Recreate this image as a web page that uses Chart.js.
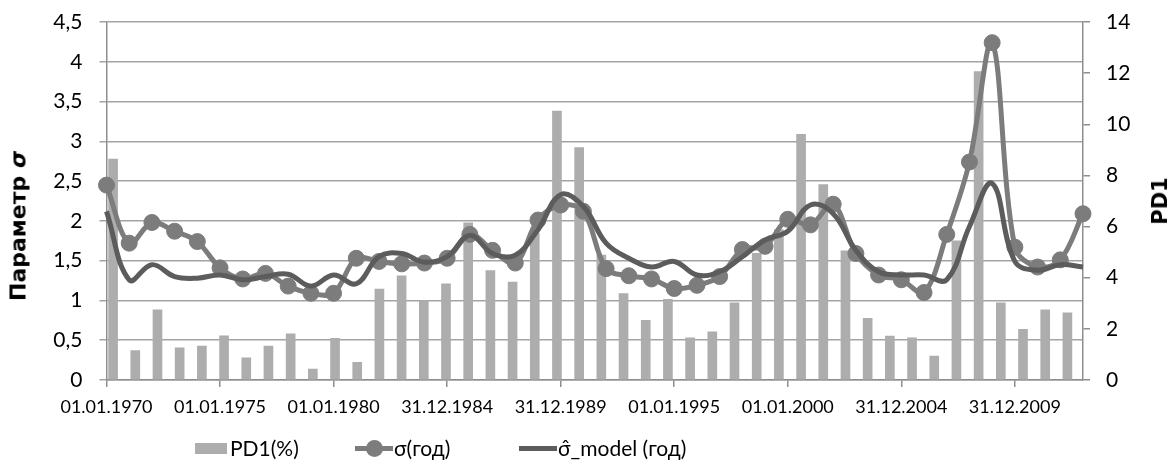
<!DOCTYPE html>
<html>
<head>
<meta charset="utf-8">
<script src="https://cdn.jsdelivr.net/npm/chart.js@4.4.1/dist/chart.umd.min.js"></script>
<style>
    html, body { margin: 0; padding: 0; background: #fff; }
    #wrap { position: relative; width: 1175px; height: 471px; font-family: Lato, 'Open Sans', sans-serif; color: #000; }
    #chart { position: absolute; left: 0; top: 0; }
    .axis-title { position: absolute; font-family: 'DejaVu Sans', sans-serif; font-weight: bold; font-size: 22px; white-space: nowrap; transform: translate(-50%, -50%) rotate(-90deg); }
    #title-left { left: 18px; top: 226px; }
    #title-right { left: 1160px; top: 201px; font-size: 21px; }
    #legend { position: absolute; left: 0; top: 434px; width: 1175px; height: 28px; font-size: 21px; }
    .item { position: absolute; top: 0; height: 28px; line-height: 28px; white-space: nowrap; }
    .swatch { position: absolute; top: 9px; width: 32px; height: 11px; }
    .lineswatch { position: absolute; top: 12px; width: 38px; height: 5px; }
    .dot { position: absolute; top: 6px; left: 11px; width: 17px; height: 17px; border-radius: 50%; }
</style>
</head>
<body>
<div id="wrap">
    <canvas id="chart" width="1175" height="471"></canvas>
    <div id="title-left" class="axis-title">Параметр <i>σ</i></div>
    <div id="title-right" class="axis-title">PD1</div>
    <div id="legend"></div>
</div>
<script>
// Chart data

const years = [1970, 1971, 1972, 1973, 1974, 1975, 1976, 1977, 1978, 1979,
    1980, 1981, 1982, 1983, 1984, 1985, 1986, 1987, 1988, 1989,
    1990, 1991, 1992, 1993, 1994, 1995, 1996, 1997, 1998, 1999,
    2000, 2001, 2002, 2003, 2004, 2005, 2006, 2007, 2008, 2009,
    2010, 2011, 2012, 2013];

// labels shown every 5th year
const tickLabels = ['01.01.1970', '01.01.1975', '01.01.1980', '31.12.1984', '31.12.1989',
    '01.01.1995', '01.01.2000', '31.12.2004', '31.12.2009'];

// PD1(%) - right axis
const pd1 = [8.64, 1.15, 2.74, 1.26, 1.33, 1.73, 0.87, 1.33, 1.81, 0.43,
    1.63, 0.69, 3.56, 4.07, 3.10, 3.76, 6.15, 4.28, 3.83, 5.74,
    10.52, 9.09, 4.89, 3.38, 2.33, 3.15, 1.65, 1.88, 3.02, 4.95,
    5.88, 9.61, 7.64, 5.05, 2.41, 1.72, 1.65, 0.94, 5.44, 12.06,
    3.02, 1.98, 2.74, 2.63];

// sigma (год) - left axis
const sigma = [2.45, 1.72, 1.98, 1.87, 1.74, 1.41, 1.27, 1.34, 1.18, 1.09,
    1.09, 1.53, 1.49, 1.46, 1.47, 1.53, 1.83, 1.63, 1.47, 2.01,
    2.20, 2.12, 1.40, 1.31, 1.27, 1.15, 1.19, 1.30, 1.64, 1.68,
    2.02, 1.95, 2.21, 1.59, 1.32, 1.26, 1.10, 1.83, 2.74, 4.24,
    1.67, 1.42, 1.51, 2.09];

// sigma model (год) - left axis
const sigmaModel = [2.12, 1.26, 1.45, 1.30, 1.28, 1.32, 1.26, 1.30, 1.33, 1.18,
    1.32, 1.21, 1.55, 1.59, 1.48, 1.55, 1.82, 1.59, 1.57, 1.89,
    2.33, 2.18, 1.72, 1.53, 1.42, 1.49, 1.32, 1.36, 1.55, 1.76,
    1.87, 2.20, 2.09, 1.63, 1.36, 1.32, 1.32, 1.26, 1.93, 2.47,
    1.49, 1.38, 1.45, 1.42];

const colors = {
    bar: '#ADADAD',
    sigma: '#7C7C7C',
    model: '#5C5C5C',
    grid: '#A3A3A3',
    axis: '#8E8E8E'
};

const font = 'Lato';

// tick padding also pads the top of vertical axes, so cancel that out
function fixVertical(width) {
    return s => {
        s.width = width;
        s.paddingTop = 8;
        s.paddingBottom = 8;
    };
}

const chart = new Chart(document.getElementById('chart'), {
    data: {
        labels: years.map(String),
        datasets: [
            {
                type: 'bar',
                label: 'PD1(%)',
                data: pd1,
                backgroundColor: colors.bar,
                barThickness: 9,
                xAxisID: 'xBar',
                yAxisID: 'y1',
                order: 3
            },
            {
                type: 'line',
                label: 'σ(год)',
                data: sigma,
                borderColor: colors.sigma,
                backgroundColor: colors.sigma,
                borderWidth: 5,
                pointRadius: 8,
                pointBorderWidth: 1,
                tension: 0.35,
                xAxisID: 'x',
                yAxisID: 'y',
                order: 2
            },
            {
                type: 'line',
                label: 'σ̂_model (год)',
                data: sigmaModel,
                borderColor: colors.model,
                borderWidth: 5,
                pointRadius: 0,
                tension: 0.4,
                xAxisID: 'x',
                yAxisID: 'y',
                order: 1
            }
        ]
    },
    options: {
        responsive: false,
        animation: false,
        layout: { padding: { left: 40, right: 0, top: 22, bottom: 51 } },
        plugins: {
            legend: { display: false },
            tooltip: { enabled: false }
        },
        scales: {
            x: {
                type: 'category',
                position: 'bottom',
                offset: false,
                border: { color: colors.axis, width: 1.5 },
                grid: {
                    drawOnChartArea: false,
                    tickLength: 7,
                    lineWidth: 1.5,
                    color: ctx => (ctx.index % 5 === 0 ? colors.axis : 'rgba(0,0,0,0)')
                },
                ticks: {
                    autoSkip: false,
                    maxRotation: 0,
                    padding: 9,
                    color: '#000',
                    font: { family: font, size: 18 },
                    callback: (v, i) => (i % 5 === 0 && tickLabels[i / 5]) ? tickLabels[i / 5] : ''
                },
                afterFit: s => { s.height = 40; }
            },
            xBar: {
                type: 'category',
                offset: true,
                display: false
            },
            y: {
                position: 'left',
                min: 0,
                max: 4.5,
                border: { color: colors.axis, width: 1.5 },
                grid: { color: colors.grid, lineWidth: 1.5, tickLength: 7 },
                ticks: {
                    stepSize: 0.5,
                    padding: 17,
                    color: '#000',
                    font: { family: font, size: 21 },
                    callback: v => String(v).replace('.', ',')
                },
                afterFit: fixVertical(66.5)
            },
            y1: {
                position: 'right',
                min: 0,
                max: 14,
                border: { color: colors.axis, width: 1.5 },
                grid: { drawOnChartArea: false, color: colors.axis, lineWidth: 1.5, tickLength: 7 },
                ticks: {
                    stepSize: 2,
                    padding: 16,
                    color: '#000',
                    font: { family: font, size: 21 }
                },
                afterFit: fixVertical(92)
            }
        }
    }
});

// HTML legend, built from the datasets
const legendPos = [{ left: 195, text: 230 }, { left: 355, text: 394 }, { left: 519, text: 558 }];
const legend = document.getElementById('legend');
chart.data.datasets.forEach((ds, i) => {
    const item = document.createElement('div');
    item.className = 'item';
    item.style.left = legendPos[i].left + 'px';
    let mark;
    if (ds.type === 'bar') {
        mark = `<span class="swatch" style="left:0;background:${ds.backgroundColor}"></span>`;
    } else {
        mark = `<span class="lineswatch" style="left:0;background:${ds.borderColor}"></span>`;
        if (ds.pointRadius) mark += `<span class="dot" style="background:${ds.borderColor}"></span>`;
    }
    item.innerHTML = mark + `<span style="position:absolute;left:${legendPos[i].text - legendPos[i].left}px">${ds.label}</span>`;
    legend.appendChild(item);
});
</script>
</body>
</html>
